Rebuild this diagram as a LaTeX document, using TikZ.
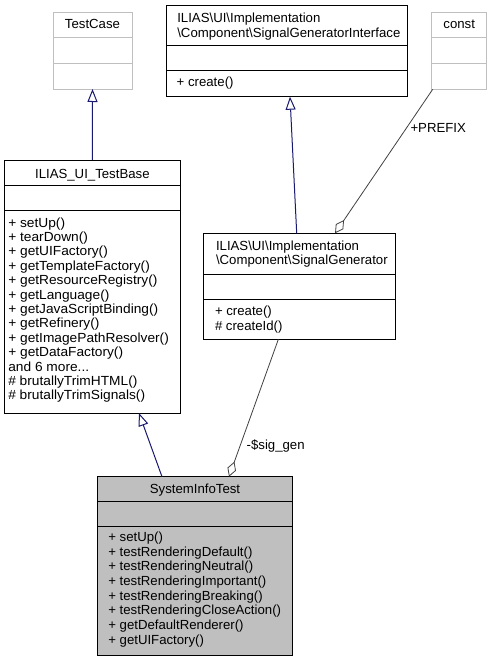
\documentclass[tikz,border=0pt]{standalone}
\usepackage{fontspec}
\setmainfont{Liberation Sans}
\usetikzlibrary{arrows.meta}
\definecolor{edgeblue}{HTML}{191970}
\definecolor{edgegray}{HTML}{404040}
\definecolor{boxgray}{HTML}{BFBFBF}
\begin{document}
\begin{tikzpicture}[x=1pt,y=-1pt,
  umlbox/.style={draw=black, line width=1pt, inner sep=0pt, outer sep=0pt},
  ghostbox/.style={umlbox, draw=boxgray},
  focusbox/.style={umlbox, fill=boxgray},
  txt/.style={font=\fontsize{13.2}{14.5}\selectfont, inner sep=0pt, outer sep=0pt},
  member/.style={txt, anchor=base west},
  title/.style={txt, anchor=base},
  divider/.style={line width=1pt},
  inherit/.style={draw=edgeblue, line width=1pt, -{Triangle[open,length=13pt,width=10pt]}},
  aggr/.style={draw=edgegray, line width=0.8pt, -{Diamond[open,length=16pt,width=9pt]}},
  elabel/.style={txt, anchor=base west},
]
\useasboundingbox (0,0) rectangle (492,661);

% TestCase
\node[ghostbox, minimum width=79pt, minimum height=76pt] (tc) at (92.5,51) {};
\draw[divider, boxgray] (tc.west |- 0,38) -- (tc.east |- 0,38);
\draw[divider, boxgray] (tc.west |- 0,64) -- (tc.east |- 0,64);
\node[title] (tc-t) at (92.5,29) {TestCase};

% SignalGeneratorInterface
\node[umlbox, minimum width=241pt, minimum height=91.4pt] (sgi) at (287.2,51) {};
\draw[divider] (sgi.west |- 0,46) -- (sgi.east |- 0,46);
\draw[divider] (sgi.west |- 0,71) -- (sgi.east |- 0,71);
\node[member] (sgi-t1) at (177.3,22.7) {ILIAS\textbackslash UI\textbackslash Implementation};
\node[member] (sgi-t2) at (177.3,37.2) {\textbackslash Component\textbackslash SignalGeneratorInterface};
\node[member] (sgi-m1) at (176.7,86) {+ create()};

% const
\node[ghostbox, minimum width=55pt, minimum height=76.6pt] (cst) at (459.2,51) {};
\draw[divider, boxgray] (cst.west |- 0,38) -- (cst.east |- 0,38);
\draw[divider, boxgray] (cst.west |- 0,64) -- (cst.east |- 0,64);
\node[title] (cst-t) at (459.2,28.5) {const};

% ILIAS_UI_TestBase
\node[umlbox, minimum width=176.7pt, minimum height=253pt] (tb) at (92.35,286.5) {};
\draw[divider] (tb.west |- 0,185) -- (tb.east |- 0,185);
\draw[divider] (tb.west |- 0,210.7) -- (tb.east |- 0,210.7);
\node[title] (tb-t) at (92.35,178.5) {ILIAS\_UI\_TestBase};
\foreach \m [count=\i] in {+ setUp(), + tearDown(), + getUIFactory(), + getTemplateFactory(),
  + getResourceRegistry(), + getLanguage(), + getJavaScriptBinding(), + getRefinery(),
  + getImagePathResolver(), + getDataFactory(), and 6 more.{}.{}., \# brutallyTrimHTML(),
  \# brutallyTrimSignals()}
  \node[member] (tb-m\i) at (8.3,{227+14.4*(\i-1)}) {\scalebox{1.04}[1]{\m}};

% SignalGenerator
\node[umlbox, minimum width=191.7pt, minimum height=106pt] (sg) at (299.2,286.3) {};
\draw[divider] (sg.west |- 0,274) -- (sg.east |- 0,274);
\draw[divider] (sg.west |- 0,299) -- (sg.east |- 0,299);
\node[member] (sg-t1) at (216,250.2) {ILIAS\textbackslash UI\textbackslash Implementation};
\node[member] (sg-t2) at (216,264.7) {\textbackslash Component\textbackslash SignalGenerator};
\node[member] (sg-m1) at (215,315.5) {+ create()};
\node[member] (sg-m2) at (215,330) {\# createId()};

% SystemInfoTest
\node[focusbox, minimum width=195.4pt, minimum height=178.3pt] (sit) at (195,565.85) {};
\draw[divider] (sit.west |- 0,501.7) -- (sit.east |- 0,501.7);
\draw[divider] (sit.west |- 0,526.7) -- (sit.east |- 0,526.7);
\node[title] (sit-t) at (195,493) {SystemInfoTest};
\foreach \m [count=\i] in {+ setUp(), + testRenderingDefault(), + testRenderingNeutral(),
  + testRenderingImportant(), + testRenderingBreaking(), + testRenderingCloseAction(),
  + getDefaultRenderer(), + getUIFactory()}
  \node[member] (sit-m\i) at (108.3,{541.5+14.65*(\i-1)}) {\m};

% connectors
\draw[inherit] (tb.north) -- (tc.south);
\draw[inherit] ([xshift=-2.5pt]sg.north) -- ([xshift=2.8pt]sgi.south);
\draw[inherit] ([xshift=-33pt]sit.north) -- ([xshift=46.6pt]tb.south);
\draw[aggr] ([xshift=1pt]cst.south west) -- ([xshift=131.7pt]sg.north west);
\draw[aggr] ([xshift=75pt]sg.south west) -- ([xshift=131.7pt]sit.north west);
\node[elabel] (lbl-prefix) at (410.5,132.5) {+PREFIX};
\node[elabel] (lbl-sig) at (246.7,449.5) {-\$sig\_gen};
\end{tikzpicture}
\end{document}
